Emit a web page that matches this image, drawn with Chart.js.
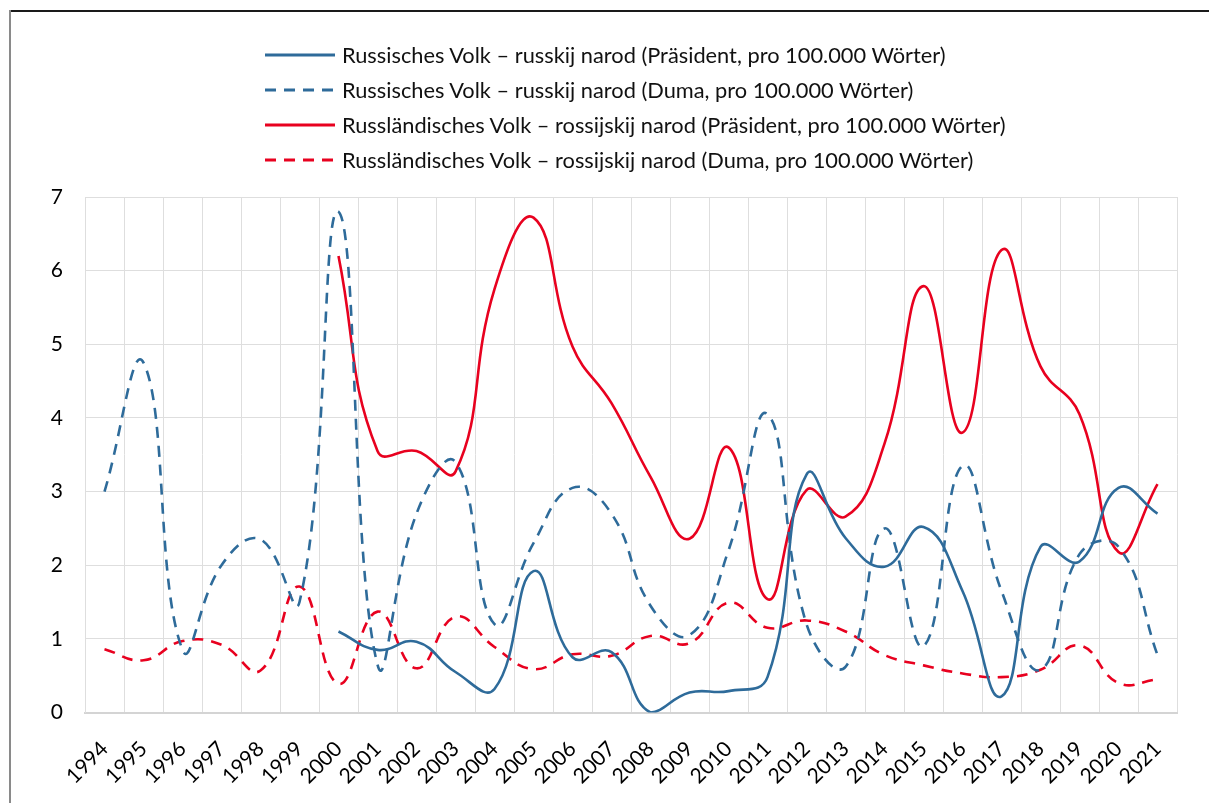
<!DOCTYPE html>
<html>
<head>
<meta charset="utf-8">
<script src="https://cdn.jsdelivr.net/npm/chart.js@4"></script>
<style>
  html, body { margin: 0; padding: 0; background: #fff; }
  #wrap { position: relative; width: 1209px; height: 803px; overflow: hidden; background: #fff; }
  #frameTop { position: absolute; left: 9px; top: 10px; width: 1200px; height: 0; border-top: 2px solid #1a1a1a; }
  #frameLeft { position: absolute; left: 9px; top: 10px; width: 0; height: 793px; border-left: 2px solid #8a8a8a; }
  canvas { position: absolute; left: 0; top: 0; }
  #legend { position: absolute; left: 265px; top: 37px; font-family: Lato, sans-serif; font-size: 21.8px; color: #111; }
  .row { height: 35px; display: flex; align-items: center; white-space: nowrap; }
  .row svg { width: 70px; height: 6px; margin-right: 7px; flex: none; }
</style>
</head>
<body>
<div id="wrap">
  <canvas id="c" width="1209" height="803"></canvas>
  <div id="frameTop"></div>
  <div id="frameLeft"></div>
  <div id="legend"></div>
</div>
<script>
const years = ["1994","1995","1996","1997","1998","1999","2000","2001","2002","2003","2004","2005","2006","2007","2008","2009","2010","2011","2012","2013","2014","2015","2016","2017","2018","2019","2020","2021"];

const russkijPraesident = [null,null,null,null,null,null,1.1,0.85,0.96,0.55,0.32,1.92,0.75,0.82,0.0,0.27,0.29,0.48,3.23,2.37,1.98,2.52,1.65,0.22,2.25,2.05,3.05,2.7];
const russkijDuma = [3.0,4.75,0.85,2.0,2.35,1.5,6.8,0.65,2.7,3.4,1.2,2.3,3.05,2.7,1.45,1.05,2.2,4.05,1.2,0.62,2.5,0.9,3.35,1.65,0.58,2.15,2.25,0.78];
const rossijskijPraesident = [null,null,null,null,null,null,6.2,3.55,3.55,3.27,5.75,6.72,4.97,4.2,3.2,2.36,3.6,1.54,3.02,2.66,3.65,5.79,3.8,6.28,4.7,4.05,2.18,3.1];
const rossijskijDuma = [0.86,0.71,0.97,0.92,0.57,1.71,0.39,1.37,0.6,1.3,0.89,0.59,0.79,0.77,1.04,0.94,1.49,1.15,1.25,1.1,0.78,0.64,0.53,0.48,0.58,0.91,0.4,0.45];

const seriesNames = [
  "Russisches Volk – russkij narod (Präsident, pro 100.000 Wörter)",
  "Russisches Volk – russkij narod (Duma, pro 100.000 Wörter)",
  "Russländisches Volk – rossijskij narod (Präsident, pro 100.000 Wörter)",
  "Russländisches Volk – rossijskij narod (Duma, pro 100.000 Wörter)"
];
const yTicks = [0,1,2,3,4,5,6,7];

const BLUE = "#2E6B9A";
const RED = "#E8011F";
const DASH = [11, 8];

const styles = [
  {color: BLUE, dash: []},
  {color: BLUE, dash: DASH},
  {color: RED, dash: []},
  {color: RED, dash: DASH}
];
const values = [russkijPraesident, russkijDuma, rossijskijPraesident, rossijskijDuma];

const datasets = values.map((v, i) => ({
  label: seriesNames[i],
  data: v,
  borderColor: styles[i].color,
  backgroundColor: styles[i].color,
  borderWidth: 2.6,
  borderDash: styles[i].dash,
  pointRadius: 0,
  pointHoverRadius: 0,
  tension: 0.45,
  fill: false,
  spanGaps: false
}));

// HTML legend (one entry per row, left aligned)
const legend = document.getElementById('legend');
seriesNames.forEach((name, i) => {
  const row = document.createElement('div');
  row.className = 'row';
  const dashAttr = styles[i].dash.length ? ' stroke-dasharray="11 8"' : '';
  row.innerHTML = '<svg viewBox="0 0 70 6"><line x1="0" y1="3" x2="70" y2="3" stroke="' + styles[i].color + '" stroke-width="3"' + dashAttr + '/></svg><span></span>';
  row.querySelector('span').textContent = name;
  legend.appendChild(row);
});

function zeroPad(scale) {
  scale.paddingLeft = 0; scale.paddingRight = 0; scale.paddingTop = 0; scale.paddingBottom = 0;
}

new Chart(document.getElementById('c'), {
  type: 'line',
  data: { labels: years, datasets },
  options: {
    responsive: false,
    animation: false,
    devicePixelRatio: 1,
    layout: { padding: { left: 51, right: 32, top: 197, bottom: 0 } },
    plugins: { legend: { display: false }, tooltip: { enabled: false } },
    scales: {
      x: {
        type: 'category',
        offset: true,
        afterFit: (scale) => { scale.height = 90.5; zeroPad(scale); },
        grid: { offset: true, color: '#dedede', lineWidth: 1, drawTicks: false },
        border: { color: '#d4d4d4', width: 2 },
        ticks: {
          autoSkip: false,
          minRotation: 45,
          maxRotation: 45,
          padding: 24,
          color: '#000',
          font: { family: 'Lato', size: 21 }
        }
      },
      y: {
        min: 0,
        max: 7,
        afterFit: (scale) => { scale.width = 34; zeroPad(scale); },
        afterBuildTicks: (scale) => { scale.ticks = yTicks.map(v => ({ value: v })); },
        grid: { color: '#dedede', lineWidth: 1, drawTicks: false },
        border: { color: '#dedede', width: 1 },
        ticks: {
          padding: 22,
          color: '#000',
          font: { family: 'Lato', size: 21 }
        }
      }
    }
  }
});
</script>
</body>
</html>
